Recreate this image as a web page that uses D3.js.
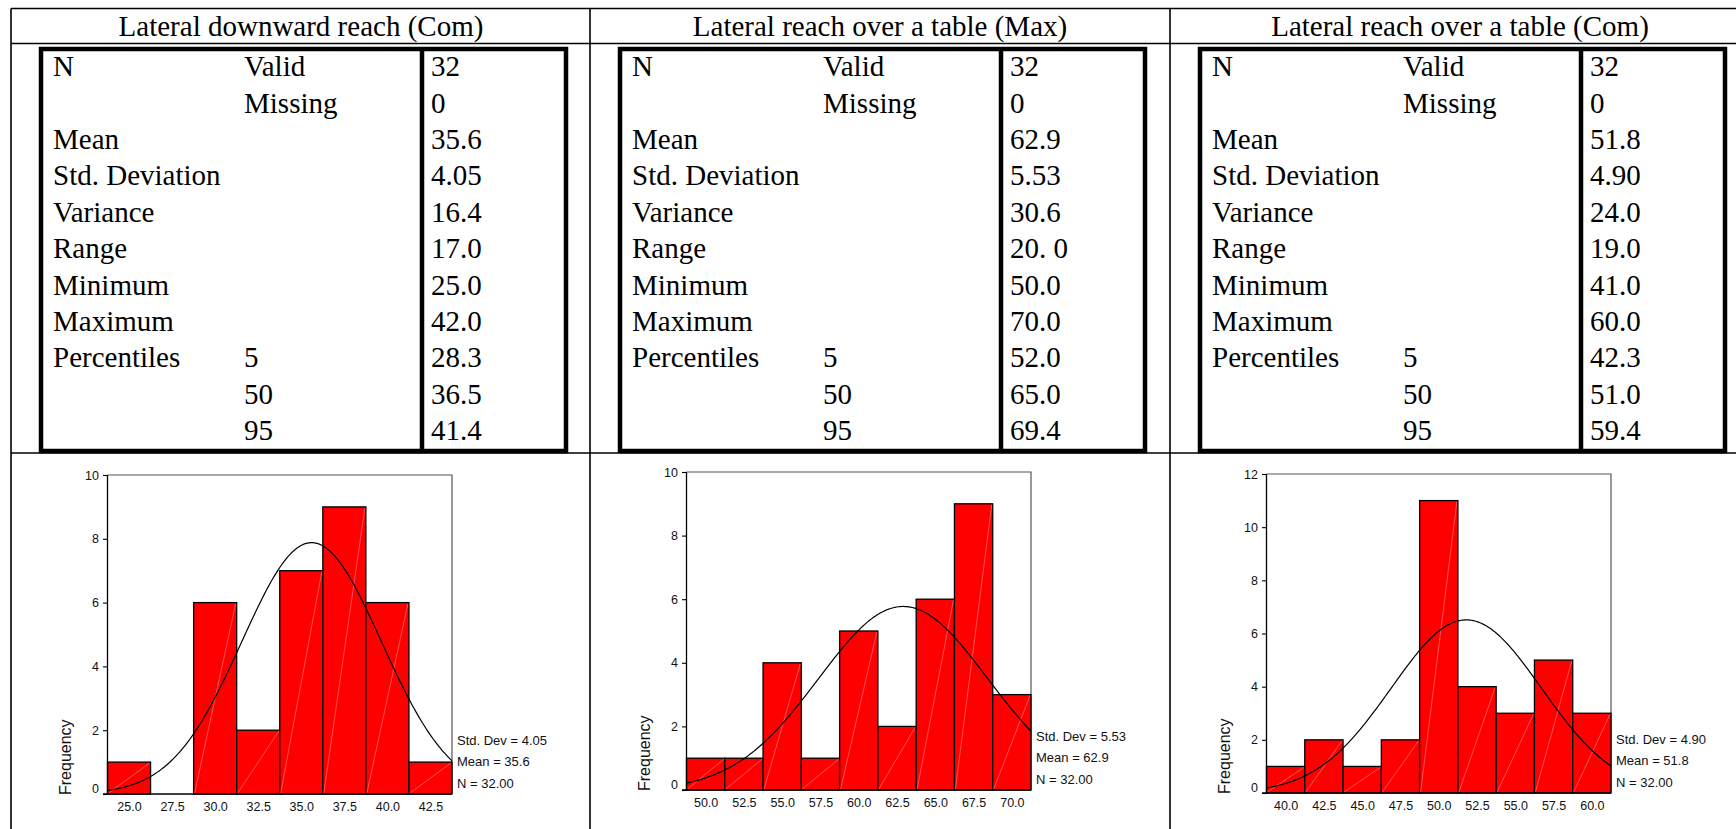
<!DOCTYPE html>
<html>
<head>
<meta charset="utf-8">
<script src="https://cdn.jsdelivr.net/npm/d3@7"></script>
<style>
  html, body { margin: 0; padding: 0; background: #fff; }
  svg { display: block; }
  .serif { font-family: "Liberation Serif", "Times New Roman", serif; fill: #000; }
  .sans { font-family: "Liberation Sans", Arial, sans-serif; fill: #111; }
</style>
</head>
<body>
<svg id="chart" width="1736" height="829"></svg>
<script>
// ---- Data -------------------------------------------------------------
const panelTitles = [
  "Lateral downward reach (Com)",
  "Lateral reach over a table (Max)",
  "Lateral reach over a table (Com)"
];

const statLabels    = ["N", "", "Mean", "Std. Deviation", "Variance", "Range",
                       "Minimum", "Maximum", "Percentiles", "", ""];
const statSubLabels = ["Valid", "Missing", "", "", "", "", "", "", "5", "50", "95"];

const statsDownwardCom = ["32", "0", "35.6", "4.05", "16.4", "17.0", "25.0", "42.0", "28.3", "36.5", "41.4"];
const statsTableMax    = ["32", "0", "62.9", "5.53", "30.6", "20. 0", "50.0", "70.0", "52.0", "65.0", "69.4"];
const statsTableCom    = ["32", "0", "51.8", "4.90", "24.0", "19.0", "41.0", "60.0", "42.3", "51.0", "59.4"];

// Histogram bins (centres, width 2.5) and frequencies
const binWidth = 2.5;
const binsDownwardCom = [25.0, 27.5, 30.0, 32.5, 35.0, 37.5, 40.0, 42.5];
const freqDownwardCom = [1, 0, 6, 2, 7, 9, 6, 1];

const binsTableMax = [50.0, 52.5, 55.0, 57.5, 60.0, 62.5, 65.0, 67.5, 70.0];
const freqTableMax = [1, 1, 4, 1, 5, 2, 6, 9, 3];

const binsTableCom = [40.0, 42.5, 45.0, 47.5, 50.0, 52.5, 55.0, 57.5, 60.0];
const freqTableCom = [1, 2, 1, 2, 11, 4, 3, 5, 3];

const yTicksDownwardCom = [0, 2, 4, 6, 8, 10];
const yTicksTableMax    = [0, 2, 4, 6, 8, 10];
const yTicksTableCom    = [0, 2, 4, 6, 8, 10, 12];

// Normal-fit parameters shown beside each histogram
const fitStdDev = [4.05, 5.53, 4.90];
const fitMean   = [35.6, 62.9, 51.8];
const fitN      = [32, 32, 32];

// ---- Layout -----------------------------------------------------------
const svg = d3.select("#chart");
const colLeft = [11, 590, 1170];
const colWidth = 580;
const tableTop = 8.5, titleLine = 43.5, statsLine = 453;
const boxTop = 49, boxBottom = 451;
const rowY0 = 66, rowStep = 36.4;
// vertical extent of each plot frame
const plotTop = [475, 472, 474];
const plotBottom = [794, 790, 793];

const panels = [
  { stats: statsDownwardCom, bins: binsDownwardCom, freq: freqDownwardCom, yTicks: yTicksDownwardCom },
  { stats: statsTableMax,    bins: binsTableMax,    freq: freqTableMax,    yTicks: yTicksTableMax },
  { stats: statsTableCom,    bins: binsTableCom,    freq: freqTableCom,    yTicks: yTicksTableCom }
];

// ---- Outer table grid -------------------------------------------------
const grid = svg.append("g").attr("stroke", "#000").attr("stroke-width", 1.6);
const tableRight = colLeft[2] + colWidth;
[tableTop, titleLine, statsLine].forEach(y =>
  grid.append("line").attr("x1", colLeft[0]).attr("x2", tableRight).attr("y1", y).attr("y2", y));
colLeft.concat([tableRight]).forEach(x =>
  grid.append("line").attr("x1", x).attr("x2", x).attr("y1", tableTop).attr("y2", 840));

// ---- Panels -----------------------------------------------------------
panels.forEach((p, i) => {
  const c = colLeft[i];

  // title
  svg.append("text").attr("class", "serif")
    .attr("x", c + colWidth / 2).attr("y", 26).attr("dy", "0.35em")
    .attr("text-anchor", "middle").attr("font-size", 29)
    .text(panelTitles[i]);

  // statistics box
  const box = svg.append("g");
  box.append("rect")
    .attr("x", c + 30).attr("y", boxTop)
    .attr("width", 525).attr("height", boxBottom - boxTop)
    .attr("fill", "none").attr("stroke", "#000").attr("stroke-width", 4.5);
  box.append("line")
    .attr("x1", c + 411).attr("x2", c + 411).attr("y1", boxTop).attr("y2", boxBottom)
    .attr("stroke", "#000").attr("stroke-width", 4.5);

  const rowY = d3.scaleLinear().domain([0, 1]).range([rowY0, rowY0 + rowStep]);
  const rows = box.selectAll("g.row").data(d3.range(statLabels.length)).join("g").attr("class", "row");
  rows.append("text").attr("class", "serif").attr("font-size", 29)
    .attr("x", c + 42).attr("y", k => rowY(k)).attr("dy", "0.35em").text(k => statLabels[k]);
  rows.append("text").attr("class", "serif").attr("font-size", 29)
    .attr("x", c + 233).attr("y", k => rowY(k)).attr("dy", "0.35em").text(k => statSubLabels[k]);
  rows.append("text").attr("class", "serif").attr("font-size", 29)
    .attr("x", c + 420).attr("y", k => rowY(k)).attr("dy", "0.35em").text(k => p.stats[k]);

  // histogram
  const x0 = c + 96.5, x1 = c + 441;
  const top = plotTop[i], bottom = plotBottom[i];
  const x = d3.scaleLinear()
    .domain([p.bins[0] - binWidth / 2, p.bins[p.bins.length - 1] + binWidth / 2])
    .range([x0, x1]);
  const y = d3.scaleLinear()
    .domain([0, p.yTicks[p.yTicks.length - 1]])
    .range([bottom, top]);

  const g = svg.append("g");

  // frame (top and right sides)
  g.append("path")
    .attr("d", `M${x0},${top}H${x1}V${bottom}`)
    .attr("fill", "none").attr("stroke", "#555").attr("stroke-width", 1.2);

  // bars
  const barData = p.bins.map((b, k) => ({ b, f: p.freq[k] })).filter(d => d.f > 0);
  g.selectAll("rect.bar").data(barData).join("rect").attr("class", "bar")
    .attr("x", d => x(d.b - binWidth / 2))
    .attr("y", d => y(d.f))
    .attr("width", d => x(d.b + binWidth / 2) - x(d.b - binWidth / 2))
    .attr("height", d => y(0) - y(d.f))
    .attr("fill", "#ff0000").attr("stroke", "#000").attr("stroke-width", 1.3);
  // fine diagonal seams across each filled bar
  g.selectAll("line.seam").data(barData).join("line").attr("class", "seam")
    .attr("x1", d => x(d.b - binWidth / 2) + 1).attr("y1", y(0) - 1)
    .attr("x2", d => x(d.b + binWidth / 2) - 1).attr("y2", d => y(d.f) + 1)
    .attr("stroke", "#ffa5a5").attr("stroke-width", 0.5);

  // fitted normal curve
  const sd = fitStdDev[i], mu = fitMean[i], n = fitN[i];
  const pdf = v => n * binWidth * Math.exp(-0.5 * ((v - mu) / sd) ** 2) / (sd * Math.sqrt(2 * Math.PI));
  const [d0, d1] = x.domain();
  const curvePts = d3.range(0, 201).map(k => d0 + (d1 - d0) * k / 200);
  g.append("path")
    .datum(curvePts)
    .attr("d", d3.line().x(v => x(v)).y(v => y(pdf(v))).curve(d3.curveLinear))
    .attr("fill", "none").attr("stroke", "#000").attr("stroke-width", 1.2);

  // y axis
  const yAxis = g.append("g").attr("transform", `translate(${x0},0)`)
    .call(d3.axisLeft(y).tickValues(p.yTicks).tickSize(4.5).tickPadding(4).tickFormat(d3.format("d")));
  yAxis.select(".domain").remove();
  yAxis.selectAll(".tick line").attr("stroke", "#000").attr("stroke-width", 1.1);
  yAxis.selectAll(".tick text").attr("class", "sans").attr("font-size", 12.5)
    .attr("dy", d => d === 0 ? "-0.15em" : "0.32em");
  g.append("line").attr("x1", x0).attr("x2", x0).attr("y1", top).attr("y2", bottom)
    .attr("stroke", "#000").attr("stroke-width", 1.3);

  // x axis
  const xAxis = g.append("g").attr("transform", `translate(0,${bottom})`)
    .call(d3.axisBottom(x).tickValues(p.bins).tickSize(0).tickPadding(8).tickFormat(d3.format(".1f")));
  xAxis.select(".domain").remove();
  xAxis.selectAll(".tick text").attr("class", "sans").attr("font-size", 12.5);
  g.append("line").attr("x1", x0 - 4.5).attr("x2", x1).attr("y1", bottom).attr("y2", bottom)
    .attr("stroke", "#000").attr("stroke-width", 1.3);

  // axis title
  g.append("text").attr("class", "sans").attr("font-size", 16)
    .attr("transform", `translate(${c + 54},${bottom + 1}) rotate(-90)`)
    .attr("dy", "0.35em").attr("text-anchor", "start")
    .text("Frequency");

  // fit summary
  const fmt2 = d3.format(".2f"), fmt1 = d3.format(".1f");
  const summary = [`Std. Dev = ${fmt2(sd)}`, `Mean = ${fmt1(mu)}`, `N = ${fmt2(n)}`];
  g.selectAll("text.summary").data(summary).join("text").attr("class", "sans summary")
    .attr("font-size", 13)
    .attr("x", x1 + 5)
    .attr("y", (d, k) => bottom - 53.6 + k * 21.3)
    .attr("dy", "0.35em")
    .text(d => d);
});
</script>
</body>
</html>
